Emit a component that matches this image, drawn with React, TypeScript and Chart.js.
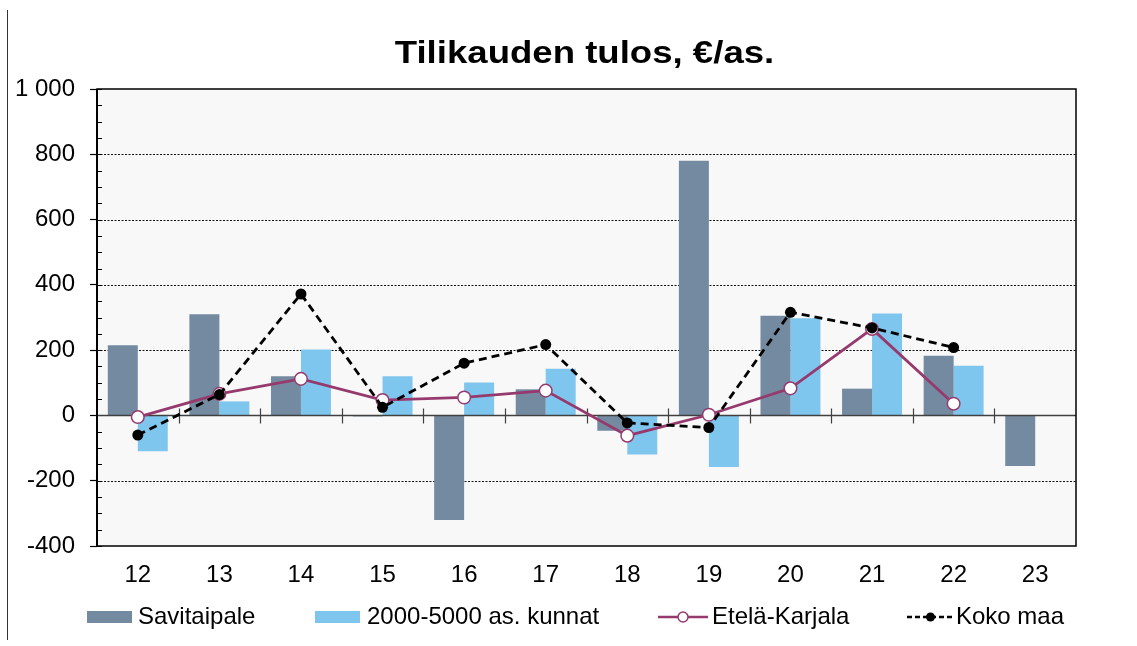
import React, { useEffect, useRef } from 'react';
import { Chart, registerables } from 'chart.js';

Chart.register(...registerables);

const TITLE = 'Tilikauden tulos, €/as.';
const categories = ['12', '13', '14', '15', '16', '17', '18', '19', '20', '21', '22', '23'];
const savitaipale = [215, 310, 120, -3, -320, 80, -47, 780, 305, 82, 183, -155];
const kunnat = [-110, 43, 202, 120, 101, 143, -120, -158, 298, 312, 152, null];
const etelaKarjala = [-5, 66, 112, 47, 55, 76, -62, 2, 83, 265, 36, null];
const kokoMaa = [-60, 64, 372, 25, 160, 217, -23, -37, 316, 268, 208, null];
const yMin = -400;
const yMax = 1000;
const yStep = 200;
const yMinorStep = 50;
const seriesNames = ['Savitaipale', '2000-5000 as. kunnat', 'Etelä-Karjala', 'Koko maa'];

const FONT = '"Liberation Sans", Arial, sans-serif';
const C_DARK = '#738AA0';
const C_LIGHT = '#7EC6EE';
const C_PURPLE = '#963A6E';
const C_BLACK = '#000000';

const fmt = (v: number) => String(v).replace(/\B(?=(\d{3})+(?!\d))/g, ' ');

const decorPlugin = {
  id: 'decor',
  beforeDraw(chart: any) {
    const { ctx, chartArea: a } = chart;
    ctx.save();
    ctx.fillStyle = '#ffffff';
    ctx.fillRect(0, 0, chart.width, chart.height);
    ctx.fillStyle = '#F8F8F8';
    ctx.fillRect(a.left, a.top, a.right - a.left, a.bottom - a.top);
    ctx.strokeStyle = '#333';
    ctx.lineWidth = 1;
    ctx.beginPath();
    ctx.moveTo(7.5, 10);
    ctx.lineTo(7.5, 640);
    ctx.stroke();
    ctx.restore();
  },
  beforeDatasetsDraw(chart: any) {
    const { ctx, chartArea: a, scales } = chart;
    const y = scales.y;
    ctx.save();
    ctx.strokeStyle = '#111';
    ctx.lineWidth = 1;
    ctx.setLineDash([2, 1.5]);
    for (let v = yMin + yStep; v < yMax; v += yStep) {
      if (v === 0) continue;
      const py = Math.round(y.getPixelForValue(v)) + 0.5;
      ctx.beginPath();
      ctx.moveTo(a.left, py);
      ctx.lineTo(a.right, py);
      ctx.stroke();
    }
    ctx.setLineDash([]);
    ctx.strokeStyle = '#000';
    for (let v = yMin; v <= yMax; v += yMinorStep) {
      const py = Math.round(y.getPixelForValue(v)) + 0.5;
      ctx.beginPath();
      ctx.moveTo(a.left, py);
      ctx.lineTo(a.left + 5, py);
      ctx.stroke();
    }
    ctx.restore();
  },
  beforeDatasetDraw(chart: any, args: any) {
    if (args.index !== 2) return;
    const { ctx, chartArea: a, scales } = chart;
    const y0 = Math.round(scales.y.getPixelForValue(0)) + 0.5;
    const x = scales.x;
    ctx.save();
    ctx.strokeStyle = '#404040';
    ctx.lineWidth = 1.5;
    ctx.beginPath();
    ctx.moveTo(a.left, y0);
    ctx.lineTo(a.right, y0);
    ctx.stroke();
    ctx.lineWidth = 1.2;
    for (let i = 1; i < categories.length; i++) {
      const px = Math.round((x.getPixelForValue(i - 1) + x.getPixelForValue(i)) / 2) + 0.5;
      ctx.beginPath();
      ctx.moveTo(px, y0 - 7);
      ctx.lineTo(px, y0 + 8);
      ctx.stroke();
    }
    ctx.restore();
  },
  afterDraw(chart: any) {
    const { ctx, chartArea: a } = chart;
    ctx.save();
    ctx.strokeStyle = '#000';
    ctx.lineWidth = 1.5;
    ctx.strokeRect(a.left, a.top, a.right - a.left, a.bottom - a.top);
    ctx.lineWidth = 2;
    ctx.beginPath();
    ctx.moveTo(a.left, a.top);
    ctx.lineTo(a.left, a.bottom);
    ctx.stroke();

    // title
    ctx.fillStyle = '#000';
    ctx.font = `bold 31px ${FONT}`;
    ctx.textAlign = 'center';
    ctx.textBaseline = 'alphabetic';
    ctx.save();
    ctx.translate((a.left + a.right) / 2 - 2, 63);
    ctx.scale(1.18, 1);
    ctx.fillText(TITLE, 0, 0);
    ctx.restore();

    // legend
    const ly = 617;
    ctx.font = `24px ${FONT}`;
    ctx.textAlign = 'left';
    ctx.textBaseline = 'middle';
    const starts = [87, 315, 658, 907];
    const textX = [138, 367, 712, 956];
    ctx.fillStyle = C_DARK;
    ctx.fillRect(starts[0], ly - 6, 45, 12);
    ctx.fillStyle = C_LIGHT;
    ctx.fillRect(starts[1], ly - 6, 45, 12);
    ctx.strokeStyle = C_PURPLE;
    ctx.lineWidth = 2.5;
    ctx.beginPath();
    ctx.moveTo(starts[2], ly);
    ctx.lineTo(starts[2] + 50, ly);
    ctx.stroke();
    ctx.fillStyle = '#fff';
    ctx.lineWidth = 1.5;
    ctx.beginPath();
    ctx.arc(starts[2] + 25, ly, 5, 0, Math.PI * 2);
    ctx.fill();
    ctx.stroke();
    ctx.strokeStyle = C_BLACK;
    ctx.lineWidth = 2.5;
    ctx.setLineDash([5, 3]);
    ctx.beginPath();
    ctx.moveTo(starts[3], ly);
    ctx.lineTo(starts[3] + 47, ly);
    ctx.stroke();
    ctx.setLineDash([]);
    ctx.fillStyle = C_BLACK;
    ctx.beginPath();
    ctx.arc(starts[3] + 23.5, ly, 4.5, 0, Math.PI * 2);
    ctx.fill();
    ctx.fillStyle = '#000';
    seriesNames.forEach((n, i) => ctx.fillText(n, textX[i], ly));
    ctx.restore();
  },
};

export default function App() {
  const ref = useRef<HTMLCanvasElement | null>(null);
  useEffect(() => {
    if (!ref.current) return;
    const chart = new Chart(ref.current, {
      type: 'bar',
      data: {
        labels: categories,
        datasets: [
          {
            type: 'bar',
            label: seriesNames[0],
            data: savitaipale,
            backgroundColor: C_DARK,
            categoryPercentage: 0.735,
            barPercentage: 1,
            order: 2,
          },
          {
            type: 'bar',
            label: seriesNames[1],
            data: kunnat as any,
            backgroundColor: C_LIGHT,
            categoryPercentage: 0.735,
            barPercentage: 1,
            order: 2,
          },
          {
            type: 'line',
            label: seriesNames[2],
            data: etelaKarjala as any,
            borderColor: C_PURPLE,
            borderWidth: 2.8,
            pointRadius: 6.3,
            pointBackgroundColor: '#ffffff',
            pointBorderColor: C_PURPLE,
            pointBorderWidth: 1.5,
            tension: 0,
            order: 1,
          },
          {
            type: 'line',
            label: seriesNames[3],
            data: kokoMaa as any,
            borderColor: C_BLACK,
            borderWidth: 2.8,
            borderDash: [8, 5],
            pointRadius: 5.5,
            pointBackgroundColor: C_BLACK,
            pointBorderColor: C_BLACK,
            pointBorderWidth: 0,
            tension: 0,
            order: 0,
          },
        ] as any,
      },
      options: {
        responsive: false,
        devicePixelRatio: 1,
        animation: false,
        layout: { padding: { left: 0, right: 61, top: 89, bottom: 0 } },
        plugins: {
          legend: { display: false },
          title: { display: false },
          tooltip: { enabled: false },
        },
        scales: {
          x: {
            grid: { display: false },
            border: { display: false },
            ticks: { color: '#000', font: { family: FONT, size: 24 }, padding: 7 },
            afterFit: (s: any) => {
              s.height = 100;
            },
          },
          y: {
            min: yMin,
            max: yMax,
            ticks: {
              stepSize: yStep,
              color: '#000',
              font: { family: FONT, size: 24 },
              padding: 15,
              callback: (v: any) => fmt(Number(v)),
            },
            grid: {
              drawOnChartArea: false,
              drawTicks: true,
              tickLength: 7,
              tickColor: '#000',
              tickWidth: 1.2,
            },
            border: { display: false },
            afterFit: (s: any) => {
              s.width = 97;
            },
          },
        },
      } as any,
      plugins: [decorPlugin],
    });
    return () => chart.destroy();
  }, []);
  return (
    <div style={{ position: 'absolute', left: 0, top: 0, width: 1137, height: 646 }}>
      <canvas ref={ref} width={1137} height={646} />
    </div>
  );
}
